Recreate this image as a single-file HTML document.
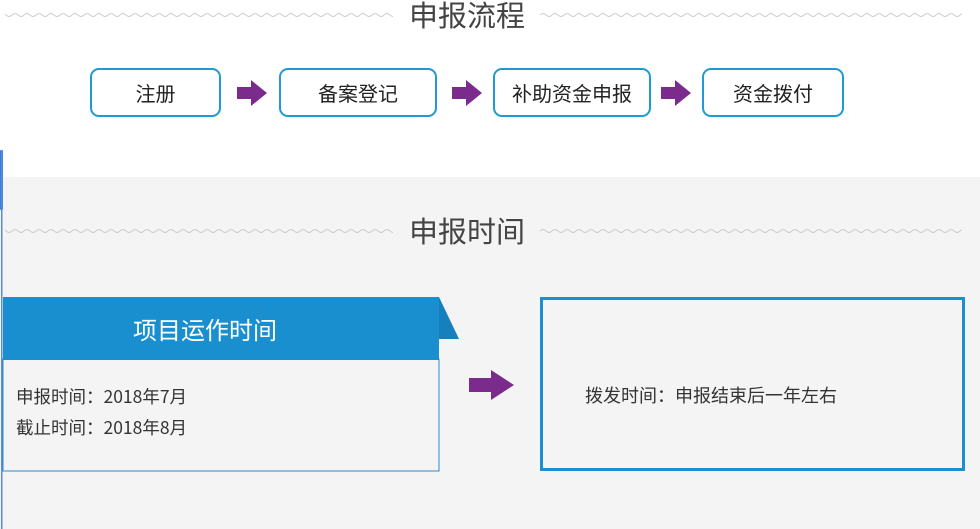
<!DOCTYPE html>
<html><head><meta charset="utf-8"><style>
body{margin:0;width:980px;height:529px;position:relative;overflow:hidden;background:#fff;font-family:"Noto Sans CJK SC","Liberation Sans",sans-serif}
.abs{position:absolute}
.box{position:absolute;top:68px;height:45px;border:2px solid #1e9ad6;border-radius:9px;background:#fff;display:flex;align-items:center;justify-content:center;font-size:20px;color:#222}
.title{position:absolute;font-size:29px;color:#444;line-height:30px}
</style></head><body>
<svg class="abs" style="left:0;top:0" width="980" height="529">
<defs><pattern id="w" width="12" height="6" patternUnits="userSpaceOnUse"><path d="M0 3 Q3 0 6 3 T12 3" fill="none" stroke="#ccc" stroke-width="1"/></pattern></defs>
<rect x="0" y="177" width="980" height="352" fill="#f4f4f4"/>
<rect x="5" y="11" width="388" height="6" fill="url(#w)"/>
<rect x="540" y="11" width="422" height="6" fill="url(#w)"/>
<rect x="5" y="227" width="388" height="6" fill="url(#w)"/>
<rect x="540" y="227" width="422" height="6" fill="url(#w)"/>
<rect x="0" y="150" width="3" height="60" rx="1" fill="#3a7de0"/>
<rect x="1" y="150" width="1.5" height="379" fill="#5b8ad8"/>
<g fill="#7b2b8b">
<path d="M237 87h14v-7l16 13-16 13v-7h-14z"/>
<path d="M452 87h14v-7l16 13-16 13v-7h-14z"/>
<path d="M661 87h14v-7l16 13-16 13v-7h-14z"/>
<path d="M469 378h22v-8l23 15-23 15v-8h-22z"/>
</g>
<rect x="3" y="359" width="436" height="112" fill="#f4f4f4" stroke="#2a8ccc" stroke-width="1"/>
<rect x="3" y="297" width="436" height="63" fill="#1a8fd0"/>
<path d="M439 297L459 339H439z" fill="#1580bd"/>
<rect x="541.5" y="298.5" width="422" height="171" fill="#f4f4f4" stroke="#1a8fd0" stroke-width="3"/>
</svg>
<div class="title" style="left:409px;top:-1px">申报流程</div>
<div class="title" style="left:409px;top:215px">申报时间</div>
<div class="box" style="left:90px;width:127px">注册</div>
<div class="box" style="left:279px;width:154px">备案登记</div>
<div class="box" style="left:493px;width:154px">补助资金申报</div>
<div class="box" style="left:702px;width:138px">资金拨付</div>
<div class="abs" style="left:133px;top:297px;height:63px;line-height:63px;color:#fff;font-size:24px;white-space:nowrap">项目运作时间</div>
<div class="abs" style="left:16px;top:381px;font-size:17.5px;color:#333;line-height:31px;white-space:nowrap">申报时间：2018年7月<br>截止时间：2018年8月</div>
<div class="abs" style="left:585px;top:382px;font-size:18px;color:#333;white-space:nowrap">拨发时间：申报结束后一年左右</div>
</body></html>
